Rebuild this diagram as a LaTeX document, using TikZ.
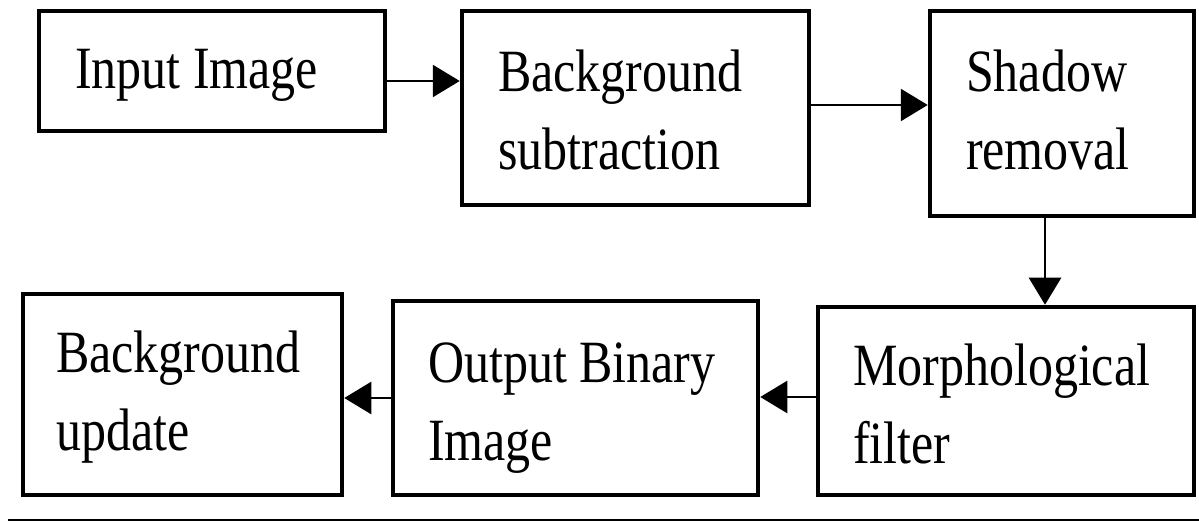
\documentclass[tikz,border=0pt]{standalone}
\usepackage{graphicx}
\usepackage{fontspec}
\setmainfont{Liberation Serif}
\usetikzlibrary{arrows.meta}
\newcommand\lbltxt[1]{\scalebox{1}[1.2]{\fontsize{50}{65}\selectfont\begin{tabular}[t]{@{}l@{}}#1\end{tabular}}}
\tikzset{
  box/.style={draw, line width=4.5pt, inner sep=0pt, rectangle},
  txt/.style={anchor=base west, inner sep=0pt, outer sep=0pt},
  arr/.style={line width=2.5pt, -{Triangle[length=27pt,width=32pt]}},
}
\begin{document}
\begin{tikzpicture}[x=1pt, y=-1pt]
\useasboundingbox (0,0) rectangle (1199,521);
% boxes
\node[box, minimum width=346pt, minimum height=120pt] (b1) at (212,71) {};
\node[box, minimum width=347pt, minimum height=194pt] (b2) at (635.5,108) {};
\node[box, minimum width=264pt, minimum height=205pt] (b3) at (1062,113.5) {};
\node[box, minimum width=319pt, minimum height=201pt] (b4) at (182.5,394.5) {};
\node[box, minimum width=365pt, minimum height=194pt] (b5) at (575.5,398) {};
\node[box, minimum width=376pt, minimum height=188pt] (b6) at (1006,401) {};
% texts
\node[txt] (t1) at (75,89) {\lbltxt{Input Image}};
\node[txt] (t2) at (498,92) {\lbltxt{Background\\subtraction}};
\node[txt] (t3) at (966,92) {\lbltxt{Shadow\\removal}};
\node[txt] (t4) at (56,372) {\lbltxt{Background\\update}};
\node[txt] (t5) at (428,382) {\lbltxt{Output Binary\\Image}};
\node[txt] (t6) at (853,385) {\lbltxt{Morphological\\filter}};
% arrows
\draw[arr] ([yshift=-10pt]b1.east) -- ([yshift=-10pt]b1.east -| b2.west);
\draw[arr] ([yshift=3pt]b2.east) -- ([yshift=3pt]b2.east -| b3.west);
\draw[arr] ([xshift=-17pt]b3.south) -- ([xshift=-17pt]b3.south |- b6.north);
\draw[arr] ([yshift=4pt]b6.west) -- ([yshift=4pt]b6.west -| b5.east);
\draw[arr] (b5.west) -- (b5.west -| b4.east);
% bottom rule
\draw[line width=1.5pt] (8,520) -- (1199,520);
\end{tikzpicture}
\end{document}
